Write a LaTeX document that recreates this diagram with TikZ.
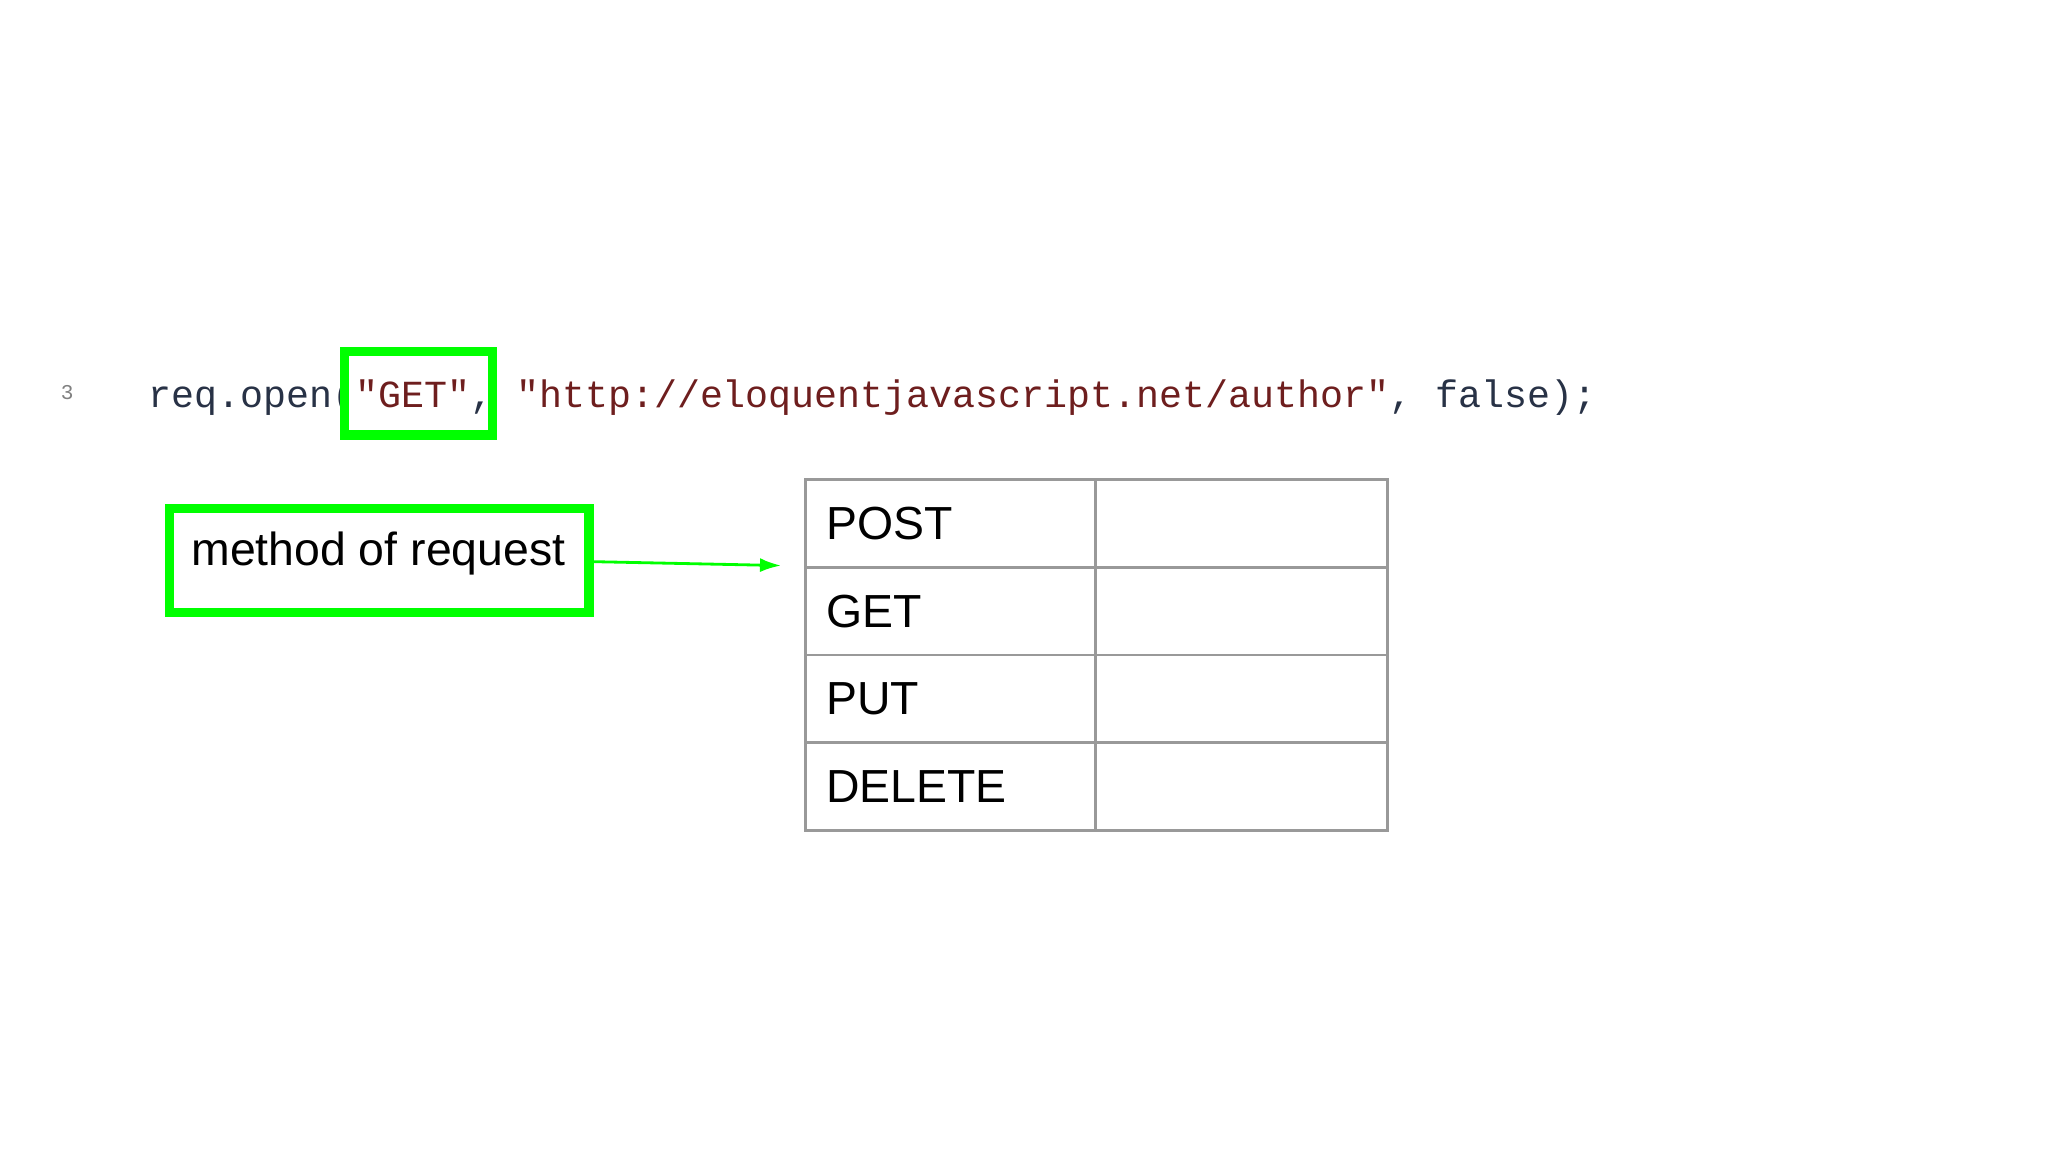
\documentclass[tikz,border=0pt]{standalone}
\usepackage{fontspec}
\usetikzlibrary{arrows.meta}
\setmainfont{Liberation Sans}
\newfontfamily\codefont{Liberation Mono}
\definecolor{grn}{RGB}{0,255,0}
\definecolor{codec}{RGB}{40,50,70}
\definecolor{strc}{RGB}{110,30,30}
\begin{document}
\begin{tikzpicture}[x=0.013061cm,y=-0.013061cm,
  gbox/.style={draw=grn,line width=2.6pt},
  cell/.style={draw=gray!80,line width=0.8pt},
  lbl/.style={anchor=west,font=\fontsize{13.2}{15}\selectfont,inner sep=0pt},
  code/.style={anchor=base west,inner sep=0pt,font=\codefont\fontsize{10.9}{13}\selectfont}]
\useasboundingbox (0,0) rectangle (1568,882);
\node[anchor=base west,inner sep=0pt,text=gray,font=\codefont\fontsize{6}{7}\selectfont] (num) at (46,306) {3};
\node[code] (codeline) at (113,312) {\textcolor{codec}{req.open(}\textcolor{strc}{"GET"}\textcolor{codec}{, }\textcolor{strc}{"http://eloquentjavascript.net/author"}\textcolor{codec}{, false);}};
\draw[gbox] (264,269) rectangle (377,333);
\draw[gbox] (130,389) rectangle (451,469);
\node[lbl] (meth) at (146,424) {method of request};
\coordinate (ms) at (453,430);
\coordinate (me) at (598,433);
\draw[grn,line width=0.8pt,-{Latex[length=6pt,width=4pt]}] (ms) -- (me);
\foreach \i/\t in {0/POST,1/GET,2/PUT,3/DELETE}{
  \draw[cell] (617,367+67.25*\i) rectangle (839,367+67.25*\i+67.25);
  \draw[cell] (839,367+67.25*\i) rectangle (1062,367+67.25*\i+67.25);
  \node[lbl] (r\i) at (632,367+67.25*\i+33.6) {\t};
}
\end{tikzpicture}
\end{document}
